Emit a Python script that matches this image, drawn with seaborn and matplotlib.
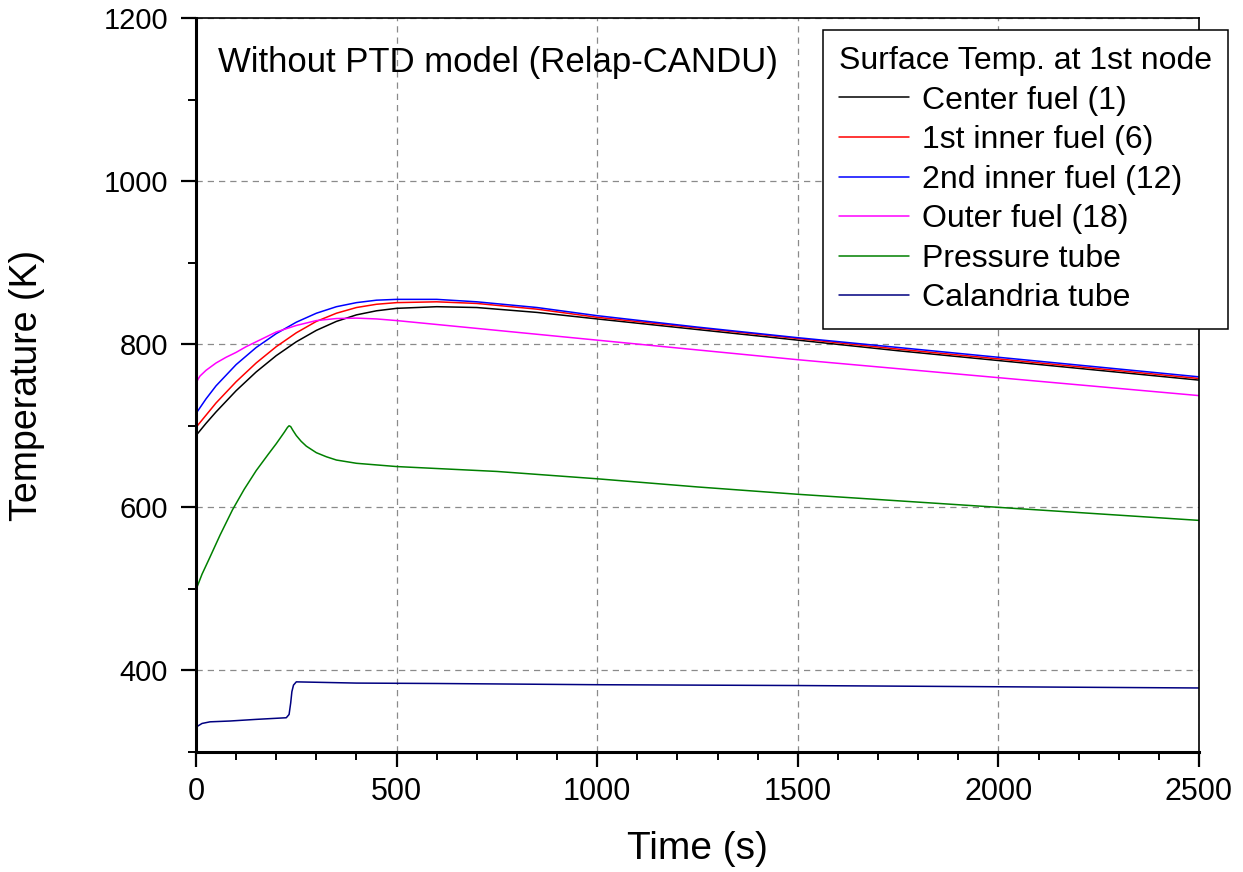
import numpy as np
import pandas as pd
import matplotlib
matplotlib.use("Agg")
import matplotlib.pyplot as plt
from matplotlib.ticker import MultipleLocator
import seaborn as sns

# ---------------- data ----------------
center_t = [0, 25, 50, 100, 150, 200, 250, 300, 350, 400, 450, 500, 600, 700, 850,
            1000, 1250, 1500, 1750, 2000, 2250, 2500]
center_v = [688, 703, 717, 743, 766, 786, 803, 817, 828, 836, 841, 844, 846, 845, 839,
            831, 818, 805, 792, 780, 768, 756]

inner1_t = [0, 25, 50, 100, 150, 200, 250, 300, 350, 400, 450, 500, 600, 700, 850,
            1000, 1250, 1500, 1750, 2000, 2250, 2500]
inner1_v = [698, 713, 728, 754, 777, 797, 814, 828, 838, 845, 849, 851, 852, 850, 843,
            833, 820, 807, 794, 782, 770, 758]

inner2_t = [0, 25, 50, 100, 150, 200, 250, 300, 350, 400, 450, 500, 600, 700, 850,
            1000, 1250, 1500, 1750, 2000, 2250, 2500]
inner2_v = [715, 733, 749, 775, 796, 813, 827, 838, 846, 851, 854, 855, 855, 852, 845,
            835, 821, 808, 796, 784, 772, 760]

outer_t = [0, 5, 10, 25, 50, 75, 100, 125, 150, 200, 250, 300, 350, 400, 450, 500, 750,
           1000, 1250, 1500, 1750, 2000, 2250, 2500]
outer_v = [752, 757, 761, 768, 777, 784, 790, 797, 803, 815, 823, 829, 831.5, 832, 831, 829, 817,
           805, 793, 781, 770, 759, 748, 737]

pt_t = [0, 15, 33, 60, 91, 120, 150, 180, 200, 220, 228, 232, 236, 242, 250, 262, 275, 300,
        325, 350, 400, 500, 750, 1000, 1250, 1500, 1750, 2000, 2250, 2500]
pt_v = [499, 518, 537, 566, 597, 622, 645, 665, 678, 692, 698, 700, 699, 694, 688, 681, 675, 667,
        662, 658, 654, 650, 644, 635, 625, 616, 608, 600, 592, 584]

ct_t = [0, 5, 15, 35, 85, 150, 225, 232, 236, 239, 243, 250, 300, 400, 600, 1000, 1500,
        2000, 2500]
ct_v = [330, 332, 335, 337, 338, 340, 342, 346, 360, 374, 382, 386, 385.5, 384.5, 384,
        382.5, 381.5, 380, 378.5]

series_names = ["Center fuel (1)", "1st inner fuel (6)", "2nd inner fuel (12)",
                "Outer fuel (18)", "Pressure tube", "Calandria tube"]
series_t = [center_t, inner1_t, inner2_t, outer_t, pt_t, ct_t]
series_v = [center_v, inner1_v, inner2_v, outer_v, pt_v, ct_v]
series_colors = ["#000000", "#FF0000", "#0000FF", "#FF00FF", "#008000", "#000080"]

x_ticks = [0, 500, 1000, 1500, 2000, 2500]
y_ticks = [400, 600, 800, 1000, 1200]

legend_title = "Surface Temp. at 1st node"
annotation = "Without PTD model (Relap-CANDU)"
x_label = "Time (s)"
y_label = "Temperature (K)"

# ---------------- style ----------------
sns.set_style("white")
plt.rcParams["font.family"] = ["Liberation Sans", "DejaVu Sans"]
plt.rcParams["text.color"] = "black"
plt.rcParams["axes.labelcolor"] = "black"
plt.rcParams["xtick.color"] = "black"
plt.rcParams["ytick.color"] = "black"

fig = plt.figure(figsize=(12.43, 8.72), dpi=100)
ax = fig.add_axes([196 / 1243, 1 - 752 / 872, (1199 - 196) / 1243, (752 - 18) / 872])

for name, t, v, c in zip(series_names, series_t, series_v, series_colors):
    df = pd.DataFrame({"Time": t, "Temp": v})
    sns.lineplot(data=df, x="Time", y="Temp", ax=ax, color=c, linewidth=1.1,
                 label=name, estimator=None, sort=False)

ax.set_xlim(0, 2500)
ax.set_ylim(300, 1200)
ax.set_xticks(x_ticks)
ax.set_yticks(y_ticks)
ax.xaxis.set_minor_locator(MultipleLocator(100))
ax.yaxis.set_minor_locator(MultipleLocator(100))

ax.grid(True, which="major", linestyle=(0, (5, 4)), color="#8a8a8a", linewidth=0.9)
ax.set_axisbelow(True)

for side in ["left", "bottom"]:
    ax.spines[side].set_linewidth(2.2)
    ax.spines[side].set_color("black")
for side in ["top", "right"]:
    ax.spines[side].set_linewidth(1.2)
    ax.spines[side].set_color("black")
    ax.spines[side].set_visible(True)

ax.tick_params(axis="both", which="major", direction="out", length=11, width=1.6,
               color="black", labelcolor="black", bottom=True, left=True, top=False, right=False)
ax.tick_params(axis="both", which="minor", direction="out", length=5.5, width=1.4,
               color="black", bottom=True, left=True, top=False, right=False)
ax.tick_params(axis="x", which="major", labelsize=22, pad=7)
ax.tick_params(axis="y", which="major", labelsize=21, pad=9)

ax.set_xlabel(x_label, fontsize=28, labelpad=17, color="black")
ax.set_ylabel(y_label, fontsize=27, labelpad=42, color="black")

ax.text(0.022, 0.927, annotation, transform=ax.transAxes, fontsize=25,
        ha="left", va="baseline", color="black")

leg = ax.legend(title=legend_title, loc="upper right",
                bbox_to_anchor=(1228 / 1243, 1 - 30 / 872),
                bbox_transform=fig.transFigure, borderaxespad=0,
                fontsize=23, title_fontsize=23, frameon=True, fancybox=False,
                edgecolor="black", framealpha=1, handlelength=2.2,
                handletextpad=0.4, labelspacing=0.3, borderpad=0.5)
leg.get_frame().set_linewidth(1.1)
leg._legend_box.align = "left"
leg.get_title().set_color("black")
for txt in leg.get_texts():
    txt.set_color("black")
for line in leg.get_lines():
    line.set_linewidth(1.1)

fig.savefig("out.png", dpi=100)
